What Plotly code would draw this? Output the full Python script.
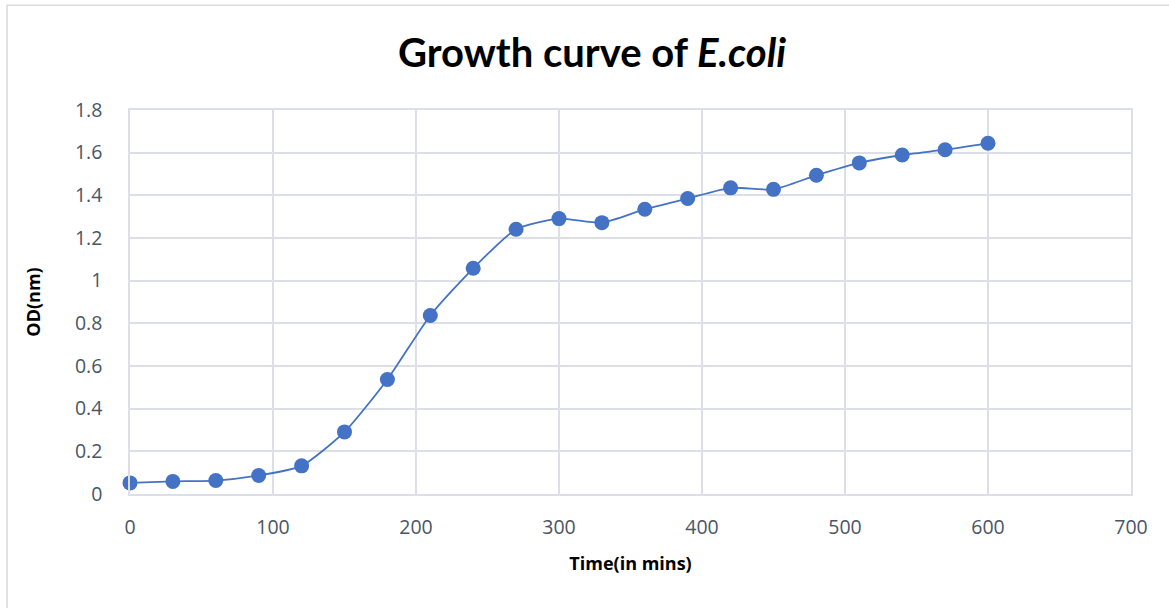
import plotly.graph_objects as go

time_min = [0, 30, 60, 90, 120, 150, 180, 210, 240, 270, 300, 330, 360, 390, 420, 450, 480, 510, 540, 570, 600]
od_values = [0.052, 0.059, 0.063, 0.087, 0.132, 0.291, 0.537, 0.837, 1.058, 1.241, 1.291, 1.272, 1.335, 1.385, 1.435, 1.428, 1.494, 1.552, 1.589, 1.614, 1.644]
x_ticks = [0, 100, 200, 300, 400, 500, 600, 700]
y_ticks = [0, 0.2, 0.4, 0.6, 0.8, 1.0, 1.2, 1.4, 1.6, 1.8]
y_tick_text = ["0", "0.2", "0.4", "0.6", "0.8", "1", "1.2", "1.4", "1.6", "1.8"]

W, H = 1169, 608
L, R, T, B = 130, 38, 110, 113.5
pw, ph = W - L - R, H - T - B

blue = "#4472C4"
grid = "#DCDFE6"
tickc = "#4B5563"

fig = go.Figure()
fig.add_trace(go.Scatter(
    x=time_min, y=od_values, mode="lines+markers",
    line=dict(color=blue, width=1.8, shape="spline", smoothing=0.6),
    marker=dict(color=blue, size=15, line=dict(width=0)),
    showlegend=False, cliponaxis=False,
))

def px2paper_x(p):
    return (p - L) / pw

def px2paper_y(p):
    return (H - B - p) / ph

fig.add_shape(type="rect", xref="paper", yref="paper",
              x0=px2paper_x(7), x1=px2paper_x(1200),
              y0=px2paper_y(640), y1=px2paper_y(5),
              line=dict(color="#D9D9D9", width=1.5), fillcolor="rgba(0,0,0,0)", layer="below")

fig.update_layout(
    width=W, height=H,
    margin=dict(l=L, r=R, t=T, b=B),
    paper_bgcolor="white", plot_bgcolor="white",
    font=dict(family="Open Sans", color=tickc),
    title=dict(text="<b>Growth curve of <i>E.coli</i></b>",
               x=592 / W, xanchor="center", xref="container",
               y=1 - 53 / H, yanchor="middle", yref="container",
               font=dict(family="Lato", size=40, color="#000000")),
)
fig.update_xaxes(
    range=[0, 700], tickvals=x_ticks, ticktext=[str(v) for v in x_ticks],
    showgrid=True, gridcolor=grid, gridwidth=1.5,
    showline=True, linecolor=grid, linewidth=1.5, mirror=True,
    zeroline=False, ticks="", ticklabelstandoff=15,
    tickfont=dict(size=19.5, color=tickc, family="Open Sans"),
    title=dict(text="<b>Time(in mins)</b>", font=dict(size=18, color="#000000", family="Open Sans"), standoff=18),
)
fig.update_yaxes(
    range=[0, 1.8], tickvals=y_ticks, ticktext=y_tick_text,
    showgrid=True, gridcolor=grid, gridwidth=1.5,
    showline=True, linecolor=grid, linewidth=1.5, mirror=True,
    zeroline=False, ticks="", ticklabelstandoff=22,
    tickfont=dict(size=19.5, color=tickc, family="Open Sans"),
    title=dict(text="<b>OD(nm)</b>", font=dict(size=18, color="#000000", family="Open Sans"), standoff=30),
)

fig.write_html("out.html")
